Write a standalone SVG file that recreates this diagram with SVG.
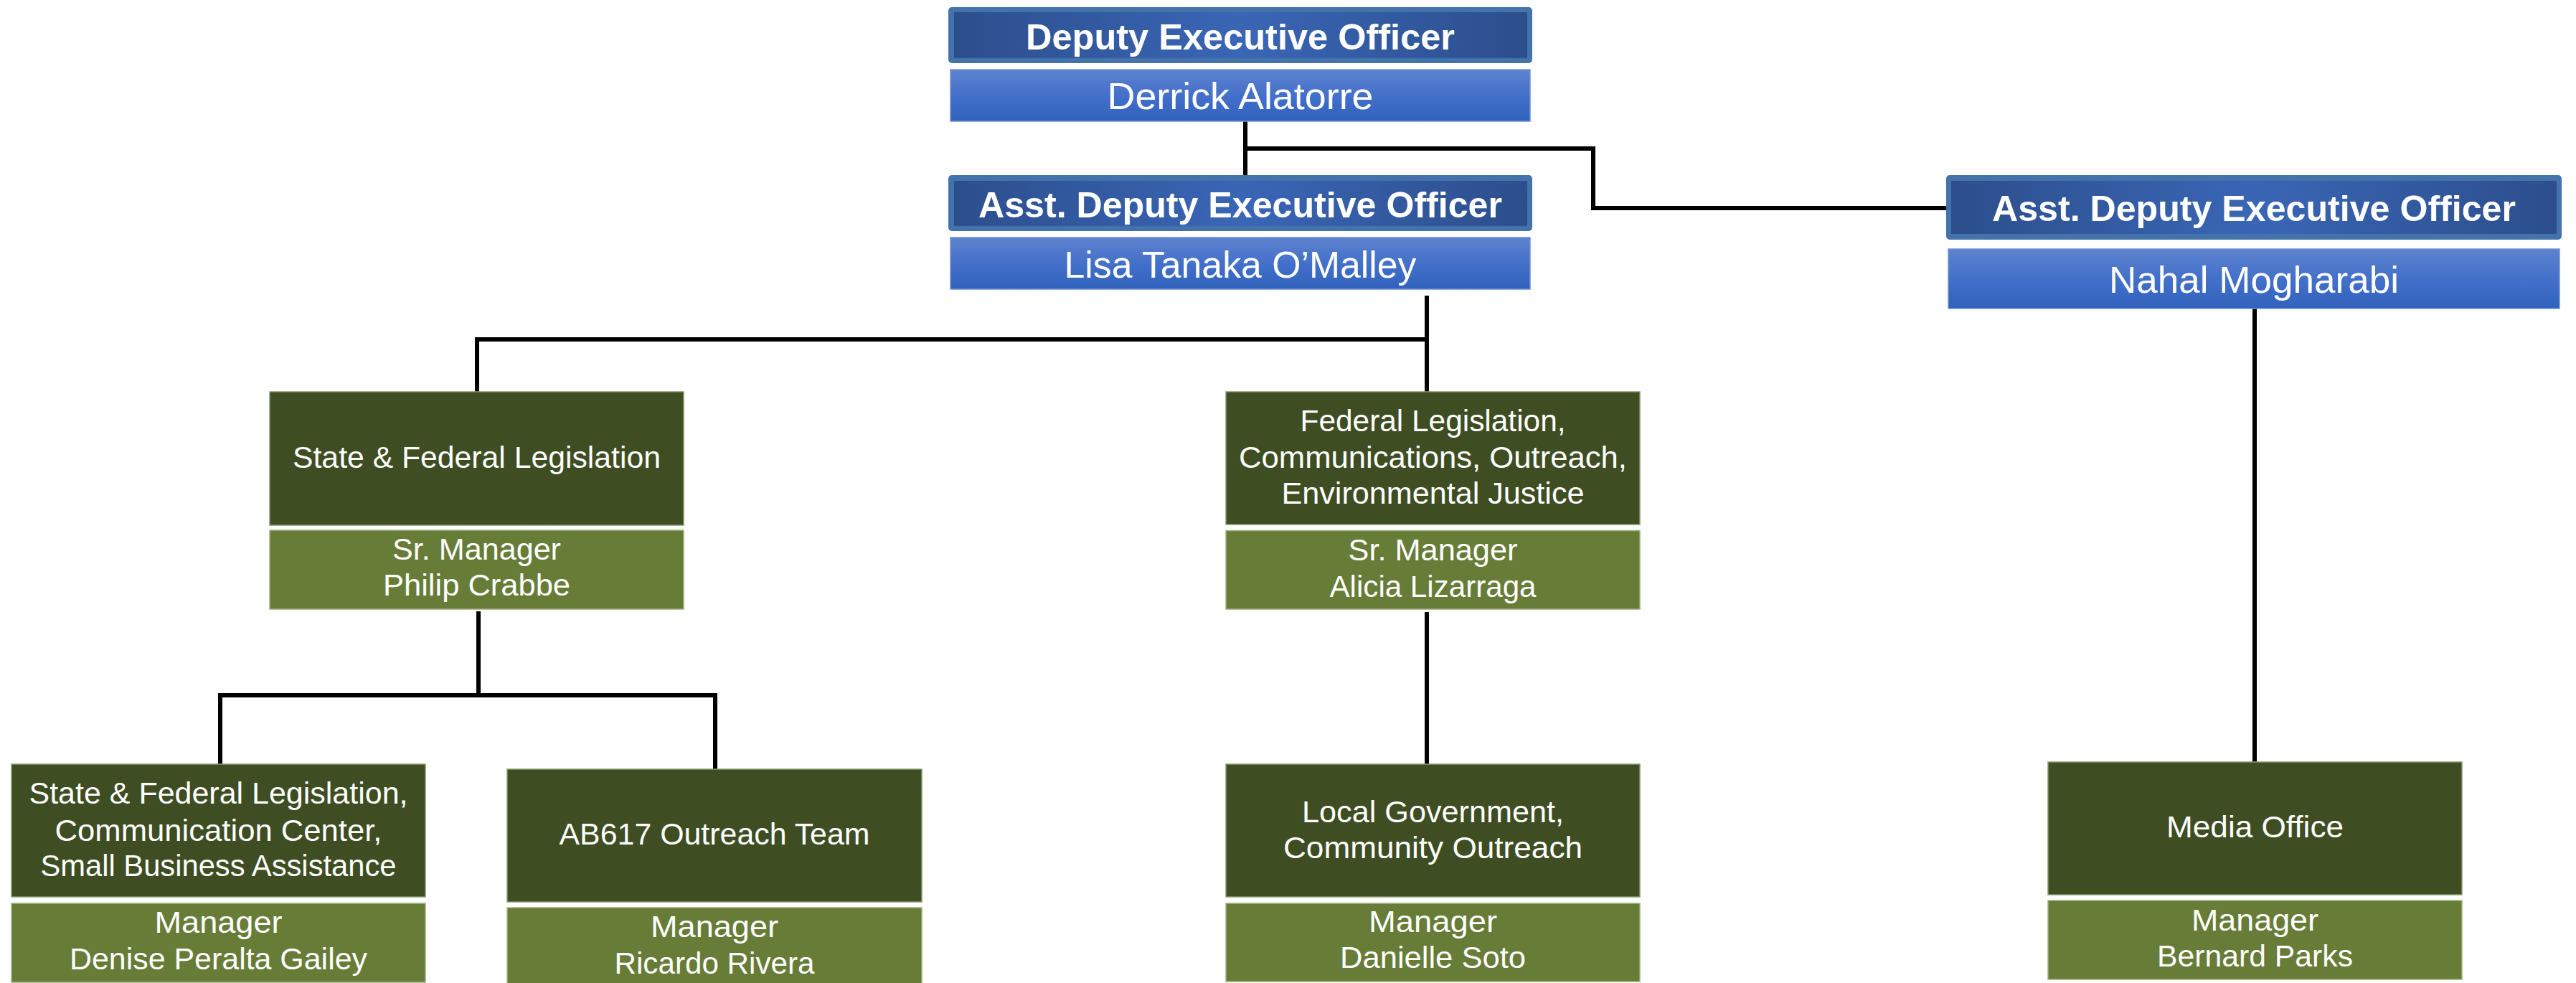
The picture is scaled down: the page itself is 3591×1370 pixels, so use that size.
<svg xmlns="http://www.w3.org/2000/svg" width="3591" height="1370" viewBox="0 0 3591 1370">
  <defs>
    <linearGradient id="titleGrad" x1="0" y1="0" x2="1" y2="0">
      <stop offset="0" stop-color="#2C4E8C"/>
      <stop offset="0.5" stop-color="#3A66B6"/>
      <stop offset="1" stop-color="#2C4E8C"/>
    </linearGradient>
    <linearGradient id="nameGrad" x1="0" y1="0" x2="0" y2="1">
      <stop offset="0" stop-color="#5E83CE"/>
      <stop offset="0.5" stop-color="#4370CA"/>
      <stop offset="1" stop-color="#3062BC"/>
    </linearGradient>
    <style>
      .tOuter { fill: #4472AA; }
      .tInner { fill: url(#titleGrad); }
      .name { fill: url(#nameGrad); stroke: #7094D8; stroke-width: 1.5; }
      .dept { fill: #3E4D22; stroke: #8A9A72; stroke-width: 1.5; }
      .mgr { fill: #677C37; stroke: #A0B282; stroke-width: 1.5; }
      text { fill: #FFFFFF; font-family: "Liberation Sans", Arial, sans-serif; text-anchor: middle; }
      .tt { font-size: 50px; font-weight: bold; }
      .nt { font-size: 52px; }
      .gt { font-size: 42px; }
      .conn { fill: none; stroke: #000000; stroke-width: 6; stroke-linejoin: miter; stroke-linecap: butt; }
    </style>
  </defs>
  <rect x="0" y="0" width="3591" height="1370" fill="#FFFFFF"/>

  <g id="connectors">
    <path class="conn" d="M1736,169 V244"/>
    <path class="conn" d="M1736,207 H2221 V290 H2713"/>
    <path class="conn" d="M1989,412 V546"/>
    <path class="conn" d="M665,546 V473 H1989"/>
    <path class="conn" d="M667,852 V969"/>
    <path class="conn" d="M307,1065 V969 H997 V1072"/>
    <path class="conn" d="M1989,853 V1065"/>
    <path class="conn" d="M3143,430 V1062"/>
  </g>

  <g id="deputy-executive-officer">
    <rect class="tOuter" x="1322" y="10" width="814" height="78" rx="5"/>
    <rect class="tInner" x="1330" y="17" width="799" height="64"/>
    <text class="tt" x="1729" y="69" textLength="598" lengthAdjust="spacingAndGlyphs">Deputy Executive Officer</text>
    <rect class="name" x="1325" y="97" width="808" height="72"/>
    <text class="nt" x="1729" y="152" textLength="371" lengthAdjust="spacingAndGlyphs">Derrick Alatorre</text>
  </g>

  <g id="asst-deputy-omalley">
    <rect class="tOuter" x="1322" y="244" width="814" height="78" rx="5"/>
    <rect class="tInner" x="1330" y="252" width="799" height="63"/>
    <text class="tt" x="1729" y="303" textLength="730" lengthAdjust="spacingAndGlyphs">Asst. Deputy Executive Officer</text>
    <rect class="name" x="1325" y="331" width="808" height="72"/>
    <text class="nt" x="1729" y="387" textLength="491" lengthAdjust="spacingAndGlyphs">Lisa Tanaka O’Malley</text>
  </g>

  <g id="asst-deputy-mogharabi">
    <rect class="tOuter" x="2713" y="244" width="858" height="90" rx="5"/>
    <rect class="tInner" x="2720" y="252" width="844" height="74"/>
    <text class="tt" x="3142" y="308" textLength="730" lengthAdjust="spacingAndGlyphs">Asst. Deputy Executive Officer</text>
    <rect class="name" x="2716" y="347" width="852" height="83"/>
    <text class="nt" x="3142" y="408" textLength="404" lengthAdjust="spacingAndGlyphs">Nahal Mogharabi</text>
  </g>

  <g id="state-federal-legislation">
    <rect class="dept" x="376" y="546" width="577" height="186"/>
    <text class="gt" x="664.5" y="652" textLength="513" lengthAdjust="spacingAndGlyphs">State &amp; Federal Legislation</text>
    <rect class="mgr" x="376" y="739" width="577" height="110"/>
    <text class="gt" x="664.5" y="780" textLength="235" lengthAdjust="spacingAndGlyphs">Sr. Manager</text>
    <text class="gt" x="664.5" y="830" textLength="261" lengthAdjust="spacingAndGlyphs">Philip Crabbe</text>
  </g>

  <g id="federal-legislation-communications">
    <rect class="dept" x="1709" y="546" width="577" height="185"/>
    <text class="gt" x="1997.5" y="601" textLength="370" lengthAdjust="spacingAndGlyphs">Federal Legislation,</text>
    <text class="gt" x="1997.5" y="652" textLength="541" lengthAdjust="spacingAndGlyphs">Communications, Outreach,</text>
    <text class="gt" x="1997.5" y="702" textLength="422" lengthAdjust="spacingAndGlyphs">Environmental Justice</text>
    <rect class="mgr" x="1709" y="739.5" width="577" height="109.5"/>
    <text class="gt" x="1997.5" y="781" textLength="236" lengthAdjust="spacingAndGlyphs">Sr. Manager</text>
    <text class="gt" x="1997.5" y="832" textLength="288" lengthAdjust="spacingAndGlyphs">Alicia Lizarraga</text>
  </g>

  <g id="communication-center">
    <rect class="dept" x="16" y="1065" width="577" height="185"/>
    <text class="gt" x="304.5" y="1120" textLength="528" lengthAdjust="spacingAndGlyphs">State &amp; Federal Legislation,</text>
    <text class="gt" x="304.5" y="1172" textLength="456" lengthAdjust="spacingAndGlyphs">Communication Center,</text>
    <text class="gt" x="304.5" y="1221" textLength="496" lengthAdjust="spacingAndGlyphs">Small Business Assistance</text>
    <rect class="mgr" x="16" y="1259" width="577" height="110"/>
    <text class="gt" x="304.5" y="1300" textLength="178" lengthAdjust="spacingAndGlyphs">Manager</text>
    <text class="gt" x="304.5" y="1351" textLength="415" lengthAdjust="spacingAndGlyphs">Denise Peralta Gailey</text>
  </g>

  <g id="ab617-outreach-team">
    <rect class="dept" x="707" y="1072" width="578" height="185"/>
    <text class="gt" x="996" y="1177" textLength="433" lengthAdjust="spacingAndGlyphs">AB617 Outreach Team</text>
    <rect class="mgr" x="707" y="1265" width="578" height="110"/>
    <text class="gt" x="996" y="1306" textLength="178" lengthAdjust="spacingAndGlyphs">Manager</text>
    <text class="gt" x="996" y="1357" textLength="279" lengthAdjust="spacingAndGlyphs">Ricardo Rivera</text>
  </g>

  <g id="local-government">
    <rect class="dept" x="1709" y="1065" width="577" height="185"/>
    <text class="gt" x="1997.5" y="1146" textLength="365" lengthAdjust="spacingAndGlyphs">Local Government,</text>
    <text class="gt" x="1997.5" y="1196" textLength="417" lengthAdjust="spacingAndGlyphs">Community Outreach</text>
    <rect class="mgr" x="1709" y="1259" width="577" height="109"/>
    <text class="gt" x="1997.5" y="1299" textLength="179" lengthAdjust="spacingAndGlyphs">Manager</text>
    <text class="gt" x="1997.5" y="1349" textLength="259" lengthAdjust="spacingAndGlyphs">Danielle Soto</text>
  </g>

  <g id="media-office">
    <rect class="dept" x="2855" y="1062" width="577" height="185"/>
    <text class="gt" x="3143.5" y="1167" textLength="247" lengthAdjust="spacingAndGlyphs">Media Office</text>
    <rect class="mgr" x="2855" y="1255" width="577" height="110"/>
    <text class="gt" x="3143.5" y="1297" textLength="177" lengthAdjust="spacingAndGlyphs">Manager</text>
    <text class="gt" x="3143.5" y="1347" textLength="273" lengthAdjust="spacingAndGlyphs">Bernard Parks</text>
  </g>
</svg>
